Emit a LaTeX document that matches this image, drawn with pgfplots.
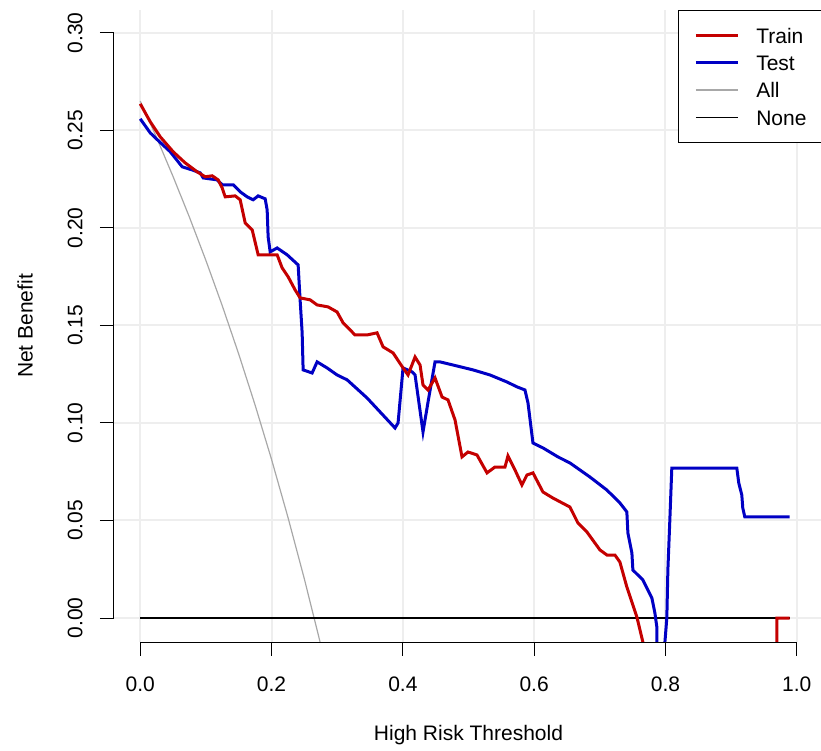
\documentclass[border=0pt]{standalone}
\usepackage{fontspec}
\setmainfont{Liberation Sans}
\usepackage{pgfplots}
\pgfplotsset{compat=1.18}
\definecolor{trainred}{HTML}{C40000}
\definecolor{testblue}{HTML}{0000C4}
\definecolor{allgray}{HTML}{A8A8A8}
\definecolor{gridgray}{HTML}{EEEEEE}
\pgfplotsset{
  dcaleg/.style={legend image code/.code={\draw[##1] (0bp,0bp) -- (21bp,0bp);}},
}
\newcommand{\lbl}{\fontsize{10.5bp}{12bp}\selectfont}

\begin{document}
\begin{tikzpicture}
\begin{axis}[
  name=ax,
  scale only axis,
  width=354.5bp, height=316bp,
  xmin=-0.04, xmax=1.04,
  ymin=-0.0123, ymax=0.3117,
  axis x line*=bottom, axis y line*=left,
  axis line style={draw=none},
  xtick={0,0.2,0.4,0.6,0.8,1},
  ytick={0,0.05,0.1,0.15,0.2,0.25,0.3},
  scaled ticks=false,
  tick align=outside,
  major tick length=7bp,
  tick style={black, line width=0.5bp},
  grid=major,
  major grid style={gridgray, line width=1bp},
  /pgf/number format/assume math mode=true,
  ticklabel style={font=\lbl, inner sep=0pt},
  xticklabel style={/pgf/number format/fixed, /pgf/number format/fixed zerofill, /pgf/number format/precision=1, anchor=north, yshift=-10bp},
  yticklabel style={/pgf/number format/fixed, /pgf/number format/fixed zerofill, /pgf/number format/precision=2, xshift=-8.5bp, rotate=90, anchor=south},
  xlabel={High Risk Threshold},
  ylabel={Net Benefit},
  label style={font=\lbl},
  xlabel style={at={(axis description cs:0.5,0)}, anchor=center, yshift=-46.5bp},
  ylabel style={at={([xshift=-44.5bp]axis description cs:0,0.5)}, anchor=center},
  clip mode=individual,
  dcaleg,
  legend cell align=left,
  legend style={at={(axis description cs:1,1)}, anchor=north east, draw=black, line width=0.5bp, fill=white,
    inner xsep=8bp, inner ysep=6.45bp, row sep=1.55bp, column sep=8.5bp, font=\lbl,
    nodes={inner sep=0pt, text height=10bp, text depth=2.1bp}},
]
\addlegendimage{trainred, line width=1.5bp}
\addlegendimage{testblue, line width=1.5bp}
\addlegendimage{allgray, line width=0.6bp}
\addlegendimage{black, line width=0.6bp}
\legend{Train,Test,All,None}

% All
\addplot[forget plot, allgray, line width=0.6bp] coordinates {
(0,0.265) (0.025,0.2462) (0.05,0.2263) (0.075,0.2054) (0.1,0.1833) (0.125,0.16) (0.15,0.1353)
(0.175,0.1091) (0.2,0.0813) (0.225,0.0516) (0.25,0.02) (0.275,-0.0138)};
% None
\addplot[forget plot, black, line width=0.6bp] coordinates {(0,0) (0.99,0)};
% Test
\addplot[forget plot, testblue, line width=1.5bp] coordinates {
(0,0.2559) (0.0152,0.2487) (0.0228,0.2462) (0.0457,0.2390) (0.0639,0.2313) (0.0791,0.2297)
(0.0913,0.2282) (0.0959,0.2256) (0.1172,0.2246) (0.1248,0.2221) (0.1416,0.2221) (0.1522,0.2185)
(0.1629,0.2159) (0.1720,0.2144) (0.1796,0.2164) (0.1903,0.2149) (0.1933,0.2092) (0.1948,0.1954)
(0.1979,0.1877) (0.2085,0.1897) (0.2237,0.1862) (0.2405,0.1810) (0.2435,0.1631) (0.2466,0.1462)
(0.2481,0.1272) (0.2618,0.1256) (0.2694,0.1313) (0.2846,0.1282) (0.2998,0.1246) (0.3151,0.1221)
(0.3455,0.1128) (0.3881,0.0974) (0.3927,0.1000) (0.4003,0.1282) (0.4140,0.1262) (0.4186,0.1246)
(0.4307,0.0954) (0.4384,0.1108) (0.4490,0.1313) (0.4566,0.1313) (0.4764,0.1297) (0.5068,0.1272)
(0.5327,0.1246) (0.5586,0.1210) (0.5738,0.1185) (0.5860,0.1169) (0.5906,0.1103) (0.5982,0.0897)
(0.6134,0.0872) (0.6362,0.0826) (0.6545,0.0795) (0.6849,0.0723) (0.7108,0.0656) (0.7306,0.0590)
(0.7412,0.0544) (0.7428,0.0436) (0.7489,0.0333) (0.7504,0.0246) (0.7656,0.0195) (0.7793,0.0103)
(0.7839,0.0026) (0.7869,-0.0046) (0.7870,-0.05) (0.7991,-0.05) (0.7991,-0.0128) (0.8021,0.0)
(0.8037,0.0246) (0.8067,0.0503) (0.8097,0.0769) (0.9087,0.0769) (0.9117,0.0692) (0.9163,0.0631)
(0.9178,0.0564) (0.9209,0.0518) (0.9893,0.0518)};
% Train
\addplot[forget plot, trainred, line width=1.5bp] coordinates {
(0,0.2636) (0.0152,0.2544) (0.0304,0.2467) (0.0502,0.2390) (0.0685,0.2333) (0.0868,0.2287)
(0.0989,0.2262) (0.1096,0.2267) (0.1187,0.2246) (0.1248,0.2205) (0.1294,0.2159) (0.1446,0.2164)
(0.1522,0.2144) (0.1598,0.2026) (0.1705,0.1990) (0.1796,0.1862) (0.1933,0.1862) (0.2085,0.1862)
(0.2161,0.1795) (0.2253,0.1749) (0.2359,0.1682) (0.2435,0.1641) (0.2588,0.1631) (0.2694,0.1605)
(0.2861,0.1595) (0.2998,0.1569) (0.3090,0.1513) (0.3272,0.1451) (0.3455,0.1451) (0.3607,0.1462)
(0.3699,0.1390) (0.3851,0.1359) (0.4003,0.1282) (0.4079,0.1246) (0.4186,0.1338) (0.4262,0.1297)
(0.4307,0.1195) (0.4384,0.1169) (0.4490,0.1231) (0.4597,0.1133) (0.4688,0.1118) (0.4795,0.1015)
(0.4901,0.0826) (0.4992,0.0851) (0.5129,0.0836) (0.5282,0.0744) (0.5403,0.0774) (0.5556,0.0774)
(0.5601,0.0831) (0.5708,0.0759) (0.5814,0.0682) (0.5890,0.0733) (0.5982,0.0744) (0.6134,0.0646)
(0.6286,0.0615) (0.6545,0.0569) (0.6621,0.0518) (0.6667,0.0487) (0.6804,0.0441) (0.7002,0.0349)
(0.7108,0.0323) (0.7230,0.0323) (0.7306,0.0287) (0.7412,0.0159) (0.7565,0.0005) (0.7656,-0.0123)
(0.775,-0.05) (0.9696,-0.05) (0.9696,0) (0.9893,0)};

% axis lines (R style, spanning first to last tick)
\draw[black, line width=0.5bp] (axis cs:0,-0.0123) -- (axis cs:1,-0.0123);
\draw[black, line width=0.5bp] (axis cs:-0.04,0) -- (axis cs:-0.04,0.3);
\end{axis}
\pgfresetboundingbox
\path[use as bounding box] ([shift={(-57bp,-54.5bp)}]ax.south west) rectangle ([shift={(353.5bp,321bp)}]ax.south west);
\end{tikzpicture}
\end{document}
